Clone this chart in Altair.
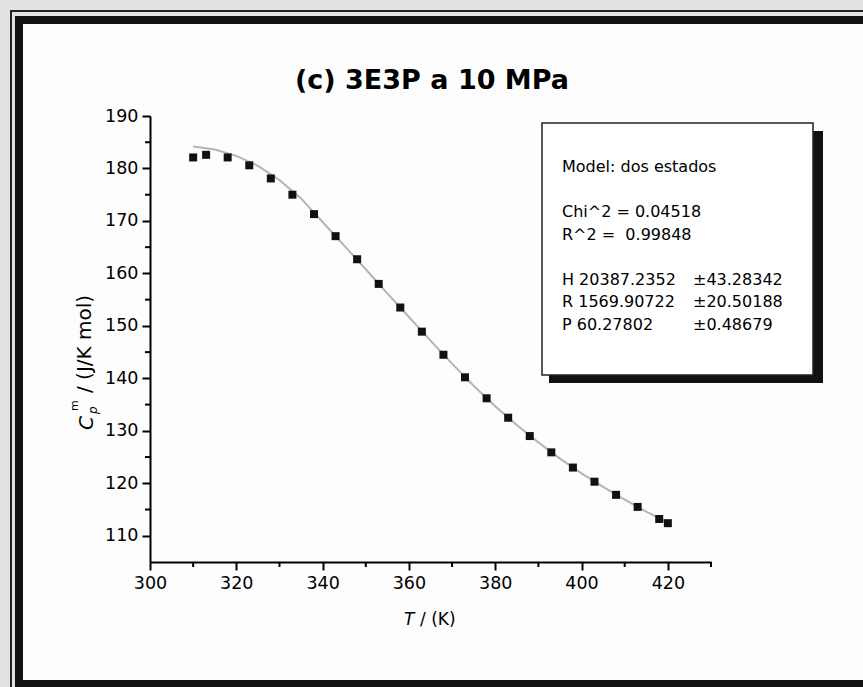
import altair as alt
import pandas as pd

# ---------------- data ----------------
T_data = [310, 313, 318, 323, 328, 333, 338, 343, 348, 353, 358, 363,
          368, 373, 378, 383, 388, 393, 398, 403, 408, 413, 418, 420]
Cp_data = [182.1, 182.6, 182.1, 180.6, 178.1, 175.0, 171.3, 167.1, 162.7, 158.0, 153.5, 148.9,
           144.5, 140.2, 136.2, 132.5, 129.0, 125.9, 123.0, 120.3, 117.8, 115.5, 113.2, 112.4]

fit_T = [310, 315, 320, 325, 330, 335, 340, 345, 350, 355, 360, 365,
         370, 375, 380, 385, 390, 395, 400, 405, 410, 415, 420]
fit_Cp = [184.2, 183.6, 182.4, 180.5, 177.8, 174.3, 169.8, 165.3, 160.8, 156.2, 151.7, 147.2,
          142.8, 138.6, 134.7, 131.1, 127.8, 124.7, 121.9, 119.3, 116.9, 114.6, 112.5]

x_major = [300, 320, 340, 360, 380, 400, 420]
x_minor = [310, 330, 350, 370, 390, 410, 430]
y_major = [110, 120, 130, 140, 150, 160, 170, 180, 190]
y_minor = [115, 125, 135, 145, 155, 165, 175, 185]

title_text = "(c) 3E3P a 10 MPa"
box_model = "Model: dos estados"
box_stats = ["Chi^2 = 0.04518", "R^2 = \u00a00.99848"]
box_params = ["H 20387.2352", "R 1569.90722", "P 60.27802"]
box_errors = ["\u00b143.28342", "\u00b120.50188", "\u00b10.48679"]
x_title_italic = "T"
x_title_rest = "/ (K)"
y_title_c = "C"
y_title_sub = "p"
y_title_sup = "m"
y_title_rest = "/ (J/K mol)"

# ---------------- layout ----------------
W, H = 863, 687
L, TOP = 150, 116
PW, PH = 561, 446
FONT = "DejaVu Sans"


def rx(a):
    return a - L


def ry(a):
    return a - TOP


pts = pd.DataFrame({"T": T_data, "Cp": Cp_data})
fit = pd.DataFrame({"T": fit_T, "Cp": fit_Cp})
xmin = pd.DataFrame({"T": x_minor})
ymin = pd.DataFrame({"Cp": y_minor})
one = pd.DataFrame({"k": [0]})

xs = alt.Scale(domain=[300, 430], nice=False, zero=False)
ys = alt.Scale(domain=[105, 190], nice=False, zero=False)

common_axis = dict(tickSize=8, tickWidth=2, domainWidth=2, domainColor="black",
                   tickColor="black", labelFont=FONT, labelFontSize=17.5,
                   labelColor="black", grid=False, title=None, labelFlush=False,
                   zindex=1)
x_axis = alt.Axis(values=x_major, labelPadding=4, **common_axis)
y_axis = alt.Axis(values=y_major, labelPadding=4, **common_axis)


def rect(x1, x2, y1, y2, **kw):
    return alt.Chart(one).mark_rect(**kw).encode(
        x=alt.value(rx(x1)), x2=alt.value(rx(x2)),
        y=alt.value(ry(y1)), y2=alt.value(ry(y2)))


def text(t, xa, ya, **kw):
    return alt.Chart(one).mark_text(text=t, font=FONT, color="black", **kw).encode(
        x=alt.value(rx(xa)), y=alt.value(ry(ya)))


bg = rect(0, W + 20, 0, H + 20, color="#e2e2e2")
inside = rect(19, W + 20, 20, 684, color="#fdfdfd")
frame_thick = rect(19, W + 20, 20, 684, fillOpacity=0, stroke="#111111", strokeWidth=8)
frame_thin = rect(11, W + 30, 11, H + 30, fillOpacity=0, stroke="#222222", strokeWidth=2)

line = alt.Chart(fit).mark_line(color="#b4b4b4", strokeWidth=2).encode(
    x=alt.X("T:Q", scale=xs, axis=x_axis),
    y=alt.Y("Cp:Q", scale=ys, axis=y_axis))

points = alt.Chart(pts).mark_square(size=64, color="#111111", opacity=1).encode(
    x=alt.X("T:Q", scale=xs, axis=x_axis),
    y=alt.Y("Cp:Q", scale=ys, axis=y_axis))

x_minor_ticks = alt.Chart(xmin).mark_rule(color="black", strokeWidth=2).encode(
    x=alt.X("T:Q", scale=xs, axis=x_axis),
    y=alt.value(PH), y2=alt.value(PH + 5))

y_minor_ticks = alt.Chart(ymin).mark_rule(color="black", strokeWidth=2).encode(
    y=alt.Y("Cp:Q", scale=ys, axis=y_axis),
    x=alt.value(0), x2=alt.value(-5))

shadow = rect(549, 823, 131, 383, color="#111111")
box = rect(542, 813, 123, 375, color="white", stroke="#222222", strokeWidth=1.5)

LH = 22.5
BASE = 172
BF = 16
bt_model = text(box_model, 562, BASE, align="left", baseline="alphabetic", fontSize=BF)
bt_stats = text(box_stats, 562, BASE + 2 * LH, align="left", baseline="alphabetic",
                fontSize=BF, lineHeight=LH)
bt_params = text(box_params, 562, BASE + 5 * LH, align="left", baseline="alphabetic",
                 fontSize=BF, lineHeight=LH)
bt_errors = text(box_errors, 693, BASE + 5 * LH, align="left", baseline="alphabetic",
                 fontSize=BF, lineHeight=LH)

title = text(title_text, 432, 81, align="center", baseline="middle",
             fontSize=27, fontWeight="bold")

xt1 = text(x_title_italic, 404, 620, align="left", baseline="middle",
           fontSize=17, fontStyle="italic")
xt2 = text(x_title_rest, 420, 620, align="left", baseline="middle", fontSize=17)

yt_c = text(y_title_c, 87, 430, align="left", baseline="middle", angle=270,
            fontSize=20, fontStyle="italic")
yt_sub = text(y_title_sub, 93, 414, align="left", baseline="middle", angle=270,
              fontSize=12, fontStyle="italic")
yt_sup = text(y_title_sup, 75, 411, align="left", baseline="middle", angle=270,
              fontSize=11)
yt_rest = text(y_title_rest, 85, 393, align="left", baseline="middle", angle=270,
               fontSize=20)

chart = alt.layer(
    bg, inside, frame_thick, frame_thin,
    line, points, x_minor_ticks, y_minor_ticks,
    shadow, box, bt_model, bt_stats, bt_params, bt_errors,
    title, xt1, xt2, yt_c, yt_sub, yt_sup, yt_rest,
).properties(
    width=PW, height=PH,
    autosize=alt.AutoSizeParams(type="none"),
    padding={"left": L, "top": TOP, "right": W - L - PW, "bottom": H - TOP - PH},
    background="white",
).configure_view(strokeWidth=0)

chart.save("out.html", embed_options={"renderer": "svg", "actions": False})
